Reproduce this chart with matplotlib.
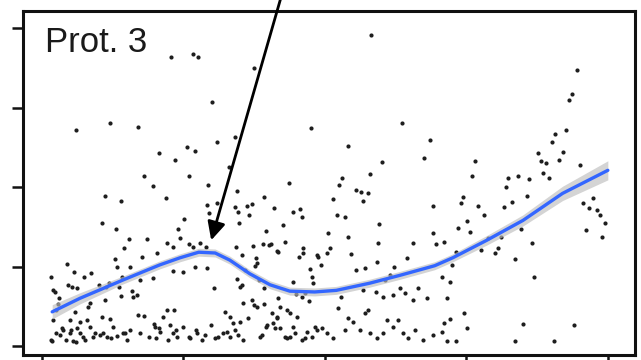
import matplotlib
matplotlib.use("Agg")
import matplotlib.pyplot as plt
import numpy as np

plt.rcParams["font.family"] = ["Liberation Sans", "DejaVu Sans"]

# measurements, (time, level)
upper = [
    (22.8, 3.64), (26.7, 3.67), (27.6, 3.64), (37.5, 3.50), (30.0, 3.07), (6.0, 2.72),
    (12.0, 2.81), (17.0, 2.75), (34.1, 2.63), (30.9, 2.57), (25.6, 2.50), (27.0, 2.45),
    (20.7, 2.43), (23.5, 2.34), (18.0, 2.14), (26.0, 2.14), (33.0, 2.25), (47.5, 2.74),
    (58.1, 3.91), (94.5, 3.47), (93.6, 3.17), (93.1, 3.09), (63.6, 2.81), (92.6, 2.72),
    (54.1, 2.52), (68.6, 2.59), (90.6, 2.67), (90.1, 2.57), (60.1, 2.31), (67.5, 2.36),
    (76.5, 2.33), (87.6, 2.43), (92.0, 2.44), (88.2, 2.33), (89.0, 2.30), (91.3, 2.34),
    (57.9, 2.16), (53.0, 2.11), (76.0, 2.14), (82.3, 2.11), (84.1, 2.14), (86.0, 2.10),
    (88.5, 2.18), (95.1, 2.28), (89.6, 2.11),
]

mid_left = [
    (19.6, 2.01), (29.3, 2.03), (11.1, 1.89), (14.0, 1.82), (21.9, 1.86), (34.5, 1.95),
    (29.2, 1.77), (30.9, 1.80), (34.1, 1.75), (36.2, 1.76), (37.1, 1.79), (29.5, 1.67),
    (34.6, 1.69), (36.6, 1.65), (10.6, 1.55), (13.1, 1.47), (25.1, 1.60), (24.0, 1.47),
    (34.8, 1.55), (39.2, 1.87), (41.0, 1.74), (42.6, 1.52), (39.6, 1.45), (44.3, 1.69),
    (45.6, 1.72), (45.9, 1.62), (42.9, 1.31), (43.6, 2.05), (15.4, 1.35), (14.5, 1.23),
    (18.6, 1.35), (20.3, 1.17), (22.1, 1.30), (23.1, 1.25), (24.4, 1.36), (26.7, 1.25),
    (27.9, 1.30), (26.0, 1.28), (29.0, 1.25),
    (1.6, 0.87), (4.4, 1.03), (5.7, 0.93), (7.4, 0.87), (8.7, 0.92), (12.9, 1.09),
    (13.3, 0.99), (15.5, 0.99), (17.7, 1.12), (19.6, 0.86), (17.3, 0.83), (14.1, 0.87),
    (11.8, 0.79), (1.9, 0.70), (5.3, 0.74), (6.2, 0.73), (10.1, 0.77), (13.6, 0.74),
    (15.9, 0.69), (16.8, 0.64), (8.1, 0.49), (5.8, 0.43), (3.0, 0.60), (2.8, 0.53),
    (23.1, 0.94), (24.9, 0.93), (27.0, 0.99), (29.2, 0.98), (30.4, 0.73), (32.3, 0.43),
    (34.5, 0.84), (35.0, 0.74), (35.9, 0.96), (37.8, 1.11), (38.0, 1.04), (40.1, 1.27),
    (41.5, 1.19), (38.3, 0.83), (39.2, 0.73), (41.7, 0.60), (37.5, 0.52), (39.2, 0.53),
    (42.0, 0.49), (43.3, 0.45), (46.1, 1.17), (47.3, 0.97), (47.7, 0.87), (46.5, 0.67),
    (48.8, 1.12), (4.6, 0.77), (2.3, 0.68), (11.3, 0.74), (16.1, 0.62), (14.0, 0.63),
    (11.1, 0.58), (8.5, 0.54), (2.5, 0.45),
]

low_left = [
    (1.9, 0.33), (3.5, 0.23), (1.8, 0.06), (3.2, 0.14), (4.9, 0.16), (6.2, 0.23),
    (6.7, 0.30), (8.0, 0.33), (5.5, 0.06), (7.2, 0.11), (9.4, 0.16), (10.2, 0.14),
    (10.6, 0.36), (12.0, 0.34), (12.5, 0.24), (11.5, 0.11), (13.3, 0.13), (15.0, 0.08),
    (14.7, 0.16), (17.0, 0.39), (18.0, 0.38), (17.3, 0.16), (18.9, 0.11), (19.8, 0.28),
    (20.7, 0.23), (21.4, 0.36), (22.1, 0.45), (23.3, 0.45), (22.6, 0.26), (23.1, 0.16),
    (22.3, 0.08), (23.9, 0.11), (24.9, 0.24), (26.0, 0.11), (27.4, 0.16), (28.3, 0.08),
    (29.9, 0.26), (31.1, 0.11), (32.7, 0.18), (33.7, 0.29), (34.6, 0.14), (33.2, 0.36),
    (35.5, 0.08), (36.4, 0.35), (38.9, 0.14), (39.8, 0.26), (41.2, 0.23), (41.5, 0.36),
    (42.9, 0.11), (44.3, 0.24), (43.8, 0.11), (45.9, 0.08), (47.7, 0.11), (48.2, 0.24),
    (46.8, 0.18), (4.9, 0.33), (3.7, 0.20), (5.1, 0.20), (6.7, 0.16), (8.5, 0.24),
    (9.0, 0.11), (10.8, 0.16), (12.2, 0.10), (14.3, 0.16), (15.5, 0.20), (20.0, 0.24),
    (20.8, 0.18), (20.1, 0.10), (23.7, 0.20), (26.1, 0.10), (27.2, 0.20), (28.8, 0.14),
    (30.6, 0.10), (32.0, 0.16), (33.2, 0.11), (1.6, 0.08), (2.5, 0.16), (4.2, 0.08),
    (6.0, 0.05), (7.6, 0.08),
]

mid_center = [
    (52.5, 2.03), (55.5, 1.96), (56.4, 1.94), (57.6, 1.92), (56.7, 1.82), (51.4, 1.85),
    (52.1, 1.65), (53.5, 1.62), (69.1, 1.76), (59.5, 1.53), (50.5, 1.42), (54.1, 1.37),
    (59.4, 1.30), (65.5, 1.30), (69.1, 1.42), (37.3, 1.26), (39.0, 1.28), (40.5, 1.28),
    (41.7, 1.18), (46.1, 1.23), (45.4, 1.12), (48.6, 1.14), (50.4, 1.17), (50.9, 1.23),
    (54.6, 1.16), (59.2, 1.06), (62.2, 0.99), (64.5, 1.11), (49.3, 1.02), (55.5, 0.96),
    (57.1, 0.98), (34.3, 1.25), (35.3, 1.14), (37.6, 1.01), (35.3, 0.77), (44.3, 0.81),
    (47.9, 0.79), (44.9, 0.65), (47.2, 0.57), (45.9, 0.62), (52.8, 0.62), (56.7, 0.70),
    (59.0, 0.68), (60.2, 0.62), (62.0, 0.64), (63.3, 0.73), (64.1, 0.67), (65.5, 0.58),
    (66.4, 0.73), (68.0, 0.60), (60.6, 0.83), (61.5, 0.89),
]

low_center = [
    (35.5, 0.54), (37.1, 0.58), (38.0, 0.49), (40.6, 0.42), (41.5, 0.35), (43.8, 0.42),
    (40.8, 0.29), (39.6, 0.24), (42.0, 0.23), (45.1, 0.36), (35.0, 0.30), (34.1, 0.20),
    (38.5, 0.11), (43.3, 0.10), (44.7, 0.16), (46.5, 0.10), (48.6, 0.20), (49.5, 0.23),
    (50.4, 0.16), (51.4, 0.10), (54.1, 0.35), (53.5, 0.20), (54.9, 0.30), (56.2, 0.20),
    (57.1, 0.42), (57.6, 0.45), (57.9, 0.16), (59.2, 0.10), (60.2, 0.16), (61.0, 0.33),
    (62.0, 0.24), (62.9, 0.33), (63.8, 0.16), (64.7, 0.10), (65.9, 0.20), (67.3, 0.08),
    (69.1, 0.14), (52.3, 0.48),
]

right = [
    (82.0, 2.00), (85.7, 1.89), (83.0, 1.81), (81.6, 1.75), (74.4, 1.87), (74.0, 1.80),
    (77.0, 1.76), (78.1, 1.65), (75.1, 1.57), (73.5, 1.48), (75.6, 1.43), (71.0, 1.31),
    (69.6, 1.28), (73.1, 1.18), (72.4, 1.02), (70.7, 0.87), (72.1, 0.81), (71.6, 0.60),
    (77.6, 1.21), (78.8, 1.36), (80.0, 1.17), (80.6, 1.23), (81.1, 1.37), (84.6, 1.47),
    (86.6, 1.30), (83.6, 1.09), (86.9, 0.87), (95.6, 1.80), (96.6, 1.74), (97.3, 1.86),
    (98.1, 1.71), (98.6, 1.65), (99.5, 1.55), (96.1, 1.46), (98.9, 1.37), (74.6, 0.42),
    (71.0, 0.29), (72.1, 0.34), (75.1, 0.23), (70.7, 0.18), (71.6, 0.06), (73.1, 0.06),
    (85.0, 0.28), (83.6, 0.06), (94.0, 0.26), (90.5, 0.06),
]

# smoothed trend with its standard-error band
trend_x = [1.8, 6.7, 14.3, 20.8, 24.4, 27.7, 30.6, 33.2, 36.7, 40.3,
           43.8, 48.2, 52.0, 57.9, 63.3, 69.4, 72.6, 78.6, 85.0, 92.0, 100.0]
trend_y = [0.43, 0.60, 0.83, 1.02, 1.11, 1.18, 1.17, 1.08, 0.91, 0.77,
           0.69, 0.68, 0.70, 0.79, 0.89, 1.01, 1.11, 1.33, 1.58, 1.92, 2.21]
trend_se = [0.09, 0.07, 0.05, 0.05, 0.05, 0.05, 0.05, 0.05, 0.05, 0.05,
            0.05, 0.05, 0.05, 0.05, 0.05, 0.05, 0.05, 0.06, 0.07, 0.09, 0.12]

x_ticks = [0, 25, 50, 75, 100]
y_ticks = [0, 1, 2, 3, 4]

fig = plt.figure(figsize=(6.41, 3.60), dpi=100)
ax = fig.add_axes([23 / 641, 5 / 360, 612 / 641, 344 / 360])

pts = np.array(upper + mid_left + low_left + mid_center + low_center + right)
ax.scatter(pts[:, 0], pts[:, 1], s=9, color="#1e1e1e", linewidths=0, zorder=2)

tx = np.array(trend_x)
ty = np.array(trend_y)
se = np.array(trend_se)
ax.fill_between(tx, ty - se, ty + se, color="#bdbdbd", alpha=0.65, linewidth=0, zorder=3)
ax.plot(tx, ty, color="#3366ff", linewidth=2.4, solid_capstyle="round",
        solid_joinstyle="round", zorder=4)

ax.set_xlim(-3.36, 104.8)
ax.set_ylim(-0.113, 4.214)
ax.set_xticks(x_ticks)
ax.set_yticks(y_ticks)
ax.set_xticklabels([])
ax.set_yticklabels([])
ax.tick_params(axis="both", direction="out", length=8, width=1.8, color="#111111")
for sp in ax.spines.values():
    sp.set_linewidth(2.2)
    sp.set_color("#111111")

ax.text(0.036, 0.881, "Prot. 3", transform=ax.transAxes, fontsize=25,
        color="#1a1a1a", ha="left", va="baseline")

# pointer to the early peak of the trend
ax.annotate("", xy=(29.9, 1.33), xytext=(42.7, 4.5),
            xycoords="data", textcoords="data", annotation_clip=False,
            arrowprops=dict(arrowstyle="-|>,head_length=0.55,head_width=0.27",
                            color="black", lw=2.0, mutation_scale=20,
                            shrinkA=0, shrinkB=0), zorder=5)

fig.savefig("out.png", dpi=100)
